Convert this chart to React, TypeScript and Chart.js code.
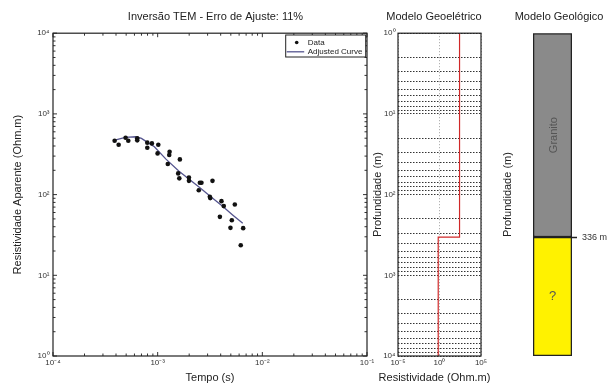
import React, { useEffect, useRef } from 'react';
import { Chart, registerables } from 'chart.js';

Chart.register(...registerables);

const FONT = '"Liberation Sans", Arial, Helvetica, sans-serif';
Chart.defaults.font.family = FONT;

// ---------- data ----------
const tempoData = [3.88e-4, 4.24e-4, 4.94e-4, 5.24e-4, 6.38e-4, 6.38e-4, 7.96e-4, 7.96e-4, 8.81e-4, 1.014e-3, 9.98e-4, 1.3e-3, 1.29e-3, 1.25e-3, 1.63e-3, 1.57e-3, 1.61e-3, 1.99e-3, 1.99e-3, 2.53e-3, 2.62e-3, 2.47e-3, 3.34e-3, 3.15e-3, 3.18e-3, 4.07e-3, 4.28e-3, 3.93e-3, 5.46e-3, 5.11e-3, 4.96e-3, 6.56e-3, 6.22e-3];
const rhoAparente = [465, 415, 507, 465, 498, 470, 440, 381, 431, 415, 324, 340, 309, 239, 273, 183, 159, 163, 148, 140, 140, 113, 148, 94, 90.5, 83, 72, 53, 75.5, 48, 38.7, 38.4, 23.6];
const curveTempo = [3.9e-4, 4.9e-4, 6.2e-4, 7.0e-4, 8.0e-4, 9.3e-4, 1.2e-3, 1.6e-3, 2.0e-3, 2.5e-3, 3.2e-3, 4.2e-3, 5.2e-3, 6.5e-3];
const curveRho = [474, 512, 521, 498, 444, 392, 275, 195, 155, 123, 95, 71, 56, 44];

const timeMajorTicks = [1e-4, 1e-3, 1e-2, 1e-1];
const rhoMajorTicks = [1, 10, 100, 1000, 10000];

const layerResistivity = [260, 0.7];
const interfaceDepth = [336];
const depthMajorTicks = [1, 10, 100, 1000, 10000];
const resistivityTicks = [1e-5, 1, 1e5];

const geoUnits = ['Granito', '?'];
const geoBoundaries = [1, 336, 10000];

// ---------- styles ----------
const geoColors = ['#8a8a8a', '#fff200'];
const geoVertical = [true, false];
const curveColor = '#55558f';
const redLine = '#d02828';

const SUP: Record<string, string> = { '0': '⁰', '1': '¹', '2': '²', '3': '³', '4': '⁴', '5': '⁵', '6': '⁶', '7': '⁷', '8': '⁸', '9': '⁹', '-': '⁻' };
const isMajor = (v: number) => Math.abs(Math.log10(v) - Math.round(Math.log10(v))) < 1e-6;
const pow10Label = (v: number) => '10' + String(Math.round(Math.log10(v))).split('').map((c) => SUP[c] || c).join('');
const logTicks = (majors: number[]) => {
  const out: any[] = [];
  majors.forEach((m, i) => {
    out.push({ value: m, major: true });
    if (i < majors.length - 1) for (let k = 2; k <= 9; k++) out.push({ value: m * k });
  });
  return out;
};

const tickFont = { size: 8, family: FONT };
const titleFont = { size: 11, family: FONT, weight: 'normal' as const };

const boxPlugin = {
  id: 'boxBorder',
  afterDraw(chart: any) {
    const { ctx, chartArea: a } = chart;
    ctx.save();
    ctx.strokeStyle = '#222';
    ctx.lineWidth = 1.2;
    ctx.strokeRect(a.left, a.top, a.right - a.left, a.bottom - a.top);
    ctx.restore();
  },
};

const inwardTicks = {
  id: 'inwardTicks',
  afterDraw(chart: any) {
    const { ctx, chartArea: a, scales } = chart;
    const { x, y } = scales;
    ctx.save();
    ctx.strokeStyle = '#333';
    ctx.lineWidth = 1;
    ctx.beginPath();
    x.ticks.forEach((t: any) => {
      const p = x.getPixelForValue(t.value);
      const L = isMajor(t.value) ? 4 : 2.5;
      ctx.moveTo(p, a.bottom); ctx.lineTo(p, a.bottom - L);
      ctx.moveTo(p, a.top); ctx.lineTo(p, a.top + L);
    });
    y.ticks.forEach((t: any) => {
      const p = y.getPixelForValue(t.value);
      const L = isMajor(t.value) ? 4 : 2.5;
      ctx.moveTo(a.left, p); ctx.lineTo(a.left + L, p);
      ctx.moveTo(a.right, p); ctx.lineTo(a.right - L, p);
    });
    ctx.stroke();
    ctx.restore();
  },
};

const insideLegend = {
  id: 'insideLegend',
  afterDraw(chart: any) {
    const { ctx, chartArea: a } = chart;
    const ds = chart.data.datasets;
    const w = 80, h = 22;
    const x0 = a.right - 1.3 - w;
    const y0 = a.top + 1.8;
    ctx.save();
    ctx.fillStyle = '#fff';
    ctx.fillRect(x0, y0, w, h);
    ctx.strokeStyle = '#222';
    ctx.lineWidth = 1;
    ctx.strokeRect(x0, y0, w, h);
    const r1 = y0 + 7.5, r2 = y0 + 16.8;
    ctx.fillStyle = '#111';
    ctx.beginPath();
    ctx.arc(x0 + 11, r1, 1.8, 0, Math.PI * 2);
    ctx.fill();
    ctx.strokeStyle = ds[1].borderColor;
    ctx.lineWidth = 1.3;
    ctx.beginPath();
    ctx.moveTo(x0 + 1, r2);
    ctx.lineTo(x0 + 18.5, r2);
    ctx.stroke();
    ctx.fillStyle = '#222';
    ctx.font = '8px ' + FONT;
    ctx.textAlign = 'left';
    ctx.textBaseline = 'middle';
    ctx.fillText(ds[0].label, x0 + 22, r1);
    ctx.fillText(ds[1].label, x0 + 22, r2);
    ctx.restore();
  },
};

const geoLabels = {
  id: 'geoLabels',
  afterDatasetsDraw(chart: any) {
    const { ctx } = chart;
    chart.data.datasets.forEach((ds: any, i: number) => {
      const el = chart.getDatasetMeta(i).data[0];
      if (!el) return;
      const cx = el.x;
      const cy = (el.y + el.base) / 2;
      ctx.save();
      ctx.translate(cx + (geoVertical[i] ? 1.5 : 0), cy);
      if (geoVertical[i]) ctx.rotate(-Math.PI / 2);
      ctx.font = (geoVertical[i] ? '11px ' : '13px ') + FONT;
      ctx.fillStyle = '#555';
      ctx.textAlign = 'center';
      ctx.textBaseline = 'middle';
      ctx.fillText(ds.label, 0, 0);
      ctx.restore();
    });
  },
};

// widen the bottom axis box (after pixel mapping is fixed) so its title is not squeezed
const widenXTitle = (center: number, half: number) => ({
  id: 'widenXTitle',
  afterLayout(chart: any) {
    const s = chart.scales.x;
    s.left = center - half;
    s.right = center + half;
    s.width = half * 2;
  },
});

const spacer = (w: number) => ({
  type: 'linear' as const,
  position: 'right' as const,
  display: true,
  ticks: { display: false },
  grid: { display: false, drawTicks: false },
  border: { display: false },
  afterFit: (s: any) => { s.width = w; },
});

function useChart(ref: React.RefObject<HTMLCanvasElement>, make: (c: HTMLCanvasElement) => Chart) {
  useEffect(() => {
    if (!ref.current) return;
    const ch = make(ref.current);
    return () => ch.destroy();
  }, []);
}

export default function App() {
  const c1 = useRef<HTMLCanvasElement>(null);
  const c2 = useRef<HTMLCanvasElement>(null);
  const c3 = useRef<HTMLCanvasElement>(null);

  useChart(c1, (cv) => new Chart(cv, {
    type: 'scatter',
    data: {
      datasets: [
        {
          label: 'Data',
          data: tempoData.map((t, i) => ({ x: t, y: rhoAparente[i] })),
          pointRadius: 2.3,
          pointBackgroundColor: '#111',
          pointBorderWidth: 0,
          showLine: false,
          yAxisID: 'y',
          order: 1,
        },
        {
          label: 'Adjusted Curve',
          data: curveTempo.map((t, i) => ({ x: t, y: curveRho[i] })),
          showLine: true,
          pointRadius: 0,
          borderColor: curveColor,
          borderWidth: 1.3,
          yAxisID: 'y',
          order: 2,
        },
      ],
    } as any,
    options: {
      animation: false,
      responsive: false,
      maintainAspectRatio: false,
      layout: { padding: 0 },
      plugins: {
        legend: { display: false },
        tooltip: { enabled: false },
        title: { display: true, text: 'Inversão TEM - Erro de Ajuste: 11%', font: titleFont, color: '#222', padding: { top: 10, bottom: 10 } },
      },
      scales: {
        x: {
          type: 'logarithmic', position: 'bottom', min: 1e-4, max: 1e-1,
          afterBuildTicks: (s: any) => { s.ticks = logTicks(timeMajorTicks); },
          ticks: { autoSkip: false, maxRotation: 0, minRotation: 0, padding: 2, font: tickFont, color: '#333', callback: (v: any) => (isMajor(Number(v)) ? pow10Label(Number(v)) : '') },
          grid: { display: false, drawTicks: false },
          border: { display: false },
          title: { display: true, text: 'Tempo (s)', font: titleFont, color: '#222', padding: { top: 0, bottom: 1.5 } },
          afterFit: (s: any) => { s.height = 30; },
        },
        y: {
          type: 'logarithmic', position: 'left', min: 1, max: 1e4,
          afterBuildTicks: (s: any) => { s.ticks = logTicks(rhoMajorTicks); },
          ticks: { autoSkip: false, padding: 3.5, font: tickFont, color: '#333', callback: (v: any) => (isMajor(Number(v)) ? pow10Label(Number(v)) : '') },
          grid: { display: false, drawTicks: false },
          border: { display: false },
          title: { display: true, text: 'Resistividade Aparente (Ohm.m)', font: titleFont, color: '#222', padding: { top: 11, bottom: 0 } },
          afterFit: (s: any) => { s.width = 53; },
        },
        ySp: spacer(64),
      },
    } as any,
    plugins: [inwardTicks, boxPlugin, insideLegend],
  }));

  useChart(c2, (cv) => {
    const stepPts: { x: number; y: number }[] = [];
    const bounds = [depthMajorTicks[0], ...interfaceDepth, depthMajorTicks[depthMajorTicks.length - 1]];
    layerResistivity.forEach((r, i) => {
      stepPts.push({ x: r, y: bounds[i] });
      stepPts.push({ x: r, y: bounds[i + 1] });
    });
    return new Chart(cv, {
      type: 'scatter',
      data: {
        datasets: [{ label: 'Modelo', data: stepPts, showLine: true, pointRadius: 0, borderColor: redLine, borderWidth: 1.2, yAxisID: 'y' }],
      } as any,
      options: {
        animation: false,
        responsive: false,
        maintainAspectRatio: false,
        layout: { padding: 0 },
        plugins: {
          legend: { display: false },
          tooltip: { enabled: false },
          title: { display: true, text: 'Modelo Geoelétrico', font: titleFont, color: '#222', padding: { top: 10, bottom: 10 } },
        },
        scales: {
          x: {
            type: 'logarithmic', position: 'bottom', min: 1e-5, max: 1e5,
            afterBuildTicks: (s: any) => { s.ticks = resistivityTicks.map((v) => ({ value: v, major: true })); },
            ticks: { autoSkip: false, maxRotation: 0, minRotation: 0, padding: 2, font: tickFont, color: '#333', callback: (v: any) => pow10Label(Number(v)) },
            grid: { display: true, drawTicks: false, color: '#a0a0a0', lineWidth: 1 },
            border: { display: false, dash: [1, 2] },
            title: { display: true, text: 'Resistividade (Ohm.m)', font: titleFont, color: '#222', padding: { top: 0, bottom: 1.5 } },
            afterFit: (s: any) => { s.height = 30; },
          },
          y: {
            type: 'logarithmic', position: 'left', min: 1, max: 1e4, reverse: true,
            afterBuildTicks: (s: any) => { s.ticks = logTicks(depthMajorTicks); },
            ticks: { autoSkip: false, padding: 2.5, font: tickFont, color: '#333', callback: (v: any) => (isMajor(Number(v)) ? pow10Label(Number(v)) : '') },
            grid: { display: true, drawTicks: false, color: '#333', lineWidth: 1 },
            border: { display: false, dash: [1.5, 1.5] },
            title: { display: true, text: 'Profundidade (m)', font: titleFont, color: '#222', padding: { top: 7, bottom: 0 } },
            afterFit: (s: any) => { s.width = 34; },
          },
          ySp: spacer(23),
        },
      } as any,
      plugins: [boxPlugin, widenXTitle(70.5, 62)],
    });
  });

  useChart(c3, (cv) => new Chart(cv, {
    type: 'bar',
    data: {
      labels: ['Perfil'],
      datasets: geoUnits.map((u, i) => ({
        label: u,
        data: [[geoBoundaries[i], geoBoundaries[i + 1]]],
        backgroundColor: geoColors[i],
        borderColor: '#222',
        borderWidth: 1.6,
        borderSkipped: false,
        grouped: false,
        barPercentage: 1,
        categoryPercentage: 1,
        yAxisID: 'y',
      })),
    } as any,
    options: {
      animation: false,
      responsive: false,
      maintainAspectRatio: false,
      layout: { padding: { top: 0, left: 0, right: 0, bottom: 30 } },
      plugins: {
        legend: { display: false },
        tooltip: { enabled: false },
        title: { display: true, text: 'Modelo Geológico', font: titleFont, color: '#222', padding: { top: 10, bottom: 10 } },
      },
      scales: {
        x: { display: false },
        y: {
          type: 'logarithmic', position: 'left', min: 1, max: 1e4, reverse: true,
          ticks: { display: false },
          grid: { display: false, drawTicks: false },
          border: { display: false },
          title: { display: true, text: 'Profundidade (m)', font: titleFont, color: '#222', padding: { top: 11, bottom: 0 } },
          afterFit: (s: any) => { s.width = 43; },
        },
        yR: {
          type: 'logarithmic', position: 'right', min: 1, max: 1e4, reverse: true,
          afterBuildTicks: (s: any) => { s.ticks = interfaceDepth.map((v) => ({ value: v })); },
          ticks: { autoSkip: false, padding: 5, font: { size: 9, family: FONT }, color: '#333', callback: (v: any) => `${v} m` },
          grid: { display: true, drawOnChartArea: false, drawTicks: true, tickLength: 5, tickColor: '#222', tickWidth: 1.5 },
          border: { display: false },
          afterFit: (s: any) => { s.width = 56; },
        },
      },
    } as any,
    plugins: [geoLabels],
  }));

  const cs = (left: number, width: number): React.CSSProperties => ({ position: 'absolute', left, top: 0, width, height: 386 });

  return (
    <div style={{ position: 'fixed', left: 0, top: 0, width: 608, height: 386, overflow: 'hidden', background: '#fff' }}>
      <canvas ref={c1} width={431} height={386} style={cs(0, 431)} />
      <canvas ref={c2} width={140} height={386} style={cs(364, 140)} />
      <canvas ref={c3} width={138} height={386} style={cs(490, 138)} />
    </div>
  );
}
